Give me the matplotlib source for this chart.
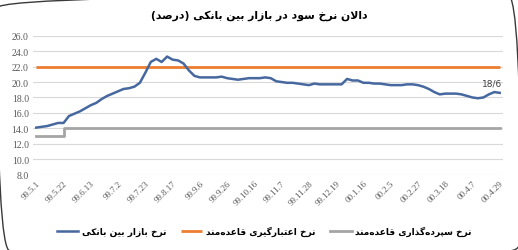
import matplotlib
matplotlib.use("Agg")
import matplotlib.pyplot as plt
from matplotlib.patches import FancyBboxPatch
from matplotlib.transforms import IdentityTransform

# ---------------- data ----------------
tick_labels = ["99.5.1", "99.5.22", "99.6.13", "99.7.2", "99.7.23", "99.8.17",
               "99.9.6", "99.9.26", "99.10.16", "99.11.7", "99.11.28", "99.12.19",
               "00.1.16", "00.2.5", "00.2.27", "00.3.18", "00.4.7", "00.4.29"]
points_per_tick = 5

interbank = [14.1, 14.2, 14.3, 14.5, 14.7, 14.7, 15.6, 15.9, 16.2, 16.6,
             17.0, 17.3, 17.8, 18.2, 18.5, 18.8, 19.1, 19.2, 19.4, 19.9,
             21.2, 22.6, 23.0, 22.6, 23.3, 22.9, 22.8, 22.4, 21.5, 20.8,
             20.6, 20.6, 20.6, 20.6, 20.7, 20.5, 20.4, 20.3, 20.4, 20.5,
             20.5, 20.5, 20.6, 20.5, 20.1, 20.0, 19.9, 19.9, 19.8, 19.7,
             19.6, 19.8, 19.7, 19.7, 19.7, 19.7, 19.7, 20.4, 20.2, 20.2,
             19.9, 19.9, 19.8, 19.8, 19.7, 19.6, 19.6, 19.6, 19.7, 19.7,
             19.6, 19.4, 19.1, 18.7, 18.4, 18.5, 18.5, 18.5, 18.4, 18.2,
             18.0, 17.9, 18.0, 18.4, 18.7, 18.6]
lending_rate = 22.0
deposit_rates = [13.0] * 5 + [14.0] * (len(interbank) - 5)
end_label = "18/6"

yticks = [8, 10, 12, 14, 16, 18, 20, 22, 24, 26]

title_txt = "دالان نرخ سود در بازار بین بانکی (درصد)"
series_names = ["نرخ بازار بین بانکی",
                "نرخ اعتبارگیری قاعده\u200cمند",
                "نرخ سپرده\u200cگذاری قاعده\u200cمند"]

# ------------- minimal Persian shaping -------------
DUAL = {
    'ب': (0xFE8F, 0xFE90, 0xFE91, 0xFE92), 'پ': (0xFB56, 0xFB57, 0xFB58, 0xFB59),
    'ت': (0xFE95, 0xFE96, 0xFE97, 0xFE98), 'خ': (0xFEA5, 0xFEA6, 0xFEA7, 0xFEA8),
    'س': (0xFEB1, 0xFEB2, 0xFEB3, 0xFEB4), 'ص': (0xFEB9, 0xFEBA, 0xFEBB, 0xFEBC),
    'ع': (0xFEC9, 0xFECA, 0xFECB, 0xFECC), 'ق': (0xFED5, 0xFED6, 0xFED7, 0xFED8),
    'ک': (0xFB8E, 0xFB8F, 0xFB90, 0xFB91), 'گ': (0xFB92, 0xFB93, 0xFB94, 0xFB95),
    'ل': (0xFEDD, 0xFEDE, 0xFEDF, 0xFEE0), 'م': (0xFEE1, 0xFEE2, 0xFEE3, 0xFEE4),
    'ن': (0xFEE5, 0xFEE6, 0xFEE7, 0xFEE8), 'ه': (0xFEE9, 0xFEEA, 0xFEEB, 0xFEEC),
    'ی': (0xFBFC, 0xFBFD, 0xFBFE, 0xFBFF),
}
RIGHT = {
    'ا': (0xFE8D, 0xFE8E), 'د': (0xFEA9, 0xFEAA), 'ذ': (0xFEAB, 0xFEAC),
    'ر': (0xFEAD, 0xFEAE), 'ز': (0xFEAF, 0xFEB0), 'و': (0xFEED, 0xFEEE),
}


def shape(s):
    chars = list(s)
    out = []
    i = 0
    n = len(chars)
    while i < n:
        c = chars[i]
        prev = chars[i - 1] if i > 0 else None
        joins_prev = prev in DUAL
        if c == 'ل' and i + 1 < n and chars[i + 1] == 'ا':
            out.append(chr(0xFEFC if joins_prev else 0xFEFB))
            i += 2
            continue
        nxt = chars[i + 1] if i + 1 < n else None
        if c in DUAL:
            joins_next = nxt in DUAL or nxt in RIGHT
            f = DUAL[c]
            if joins_prev and joins_next:
                out.append(chr(f[3]))
            elif joins_prev:
                out.append(chr(f[1]))
            elif joins_next:
                out.append(chr(f[2]))
            else:
                out.append(chr(f[0]))
        elif c in RIGHT:
            f = RIGHT[c]
            out.append(chr(f[1] if joins_prev else f[0]))
        elif c == '\u200c':
            pass
        else:
            out.append(c)
        i += 1
    vis = ''.join(reversed(out))
    vis = vis.translate(str.maketrans({'(': ')', ')': '('}))
    return vis


# ---------------- plot ----------------
W, H = 518, 251
fig = plt.figure(figsize=(W / 100, H / 100), dpi=100)
ax = fig.add_axes([33 / W, 1 - 175.7 / H, (503 - 33) / W, (175.7 - 36.7) / H])

x = list(range(len(interbank)))
ax.plot(x, [lending_rate] * len(x), color="#ED7D31", lw=2.0, solid_capstyle="butt",
        label=shape(series_names[1]), zorder=3)
ax.plot(x, deposit_rates, color="#A5A5A5", lw=2.0, drawstyle="steps-post",
        label=shape(series_names[2]), zorder=3)
ax.plot(x, interbank, color="#46689F", lw=1.8, label=shape(series_names[0]), zorder=4)

ax.annotate(end_label, (x[-1], interbank[-1]), xytext=(2, 4), textcoords="offset points",
            ha="right", va="bottom", fontsize=6.5, color="#404040", family="DejaVu Sans")

ax.set_xlim(-0.6, x[-1] + 0.6)
ax.set_ylim(8, 26)
ax.set_yticks(yticks)
ax.set_yticklabels([f"{v:.1f}" for v in yticks], fontsize=7, color="#595959",
                   family="Liberation Serif")
ticks = list(range(0, len(interbank), points_per_tick))
ax.set_xticks(ticks)
ax.set_xticklabels(tick_labels, rotation=45, ha="right", rotation_mode="anchor",
                   fontsize=6.5, color="#595959", family="Liberation Serif")
ax.tick_params(axis="both", length=0, pad=3)
ax.grid(axis="y", color="#D9D9D9", lw=0.8)
ax.set_axisbelow(True)
for sp in ax.spines.values():
    sp.set_visible(False)

fig.text(0.5, 1 - 16 / H, shape(title_txt), ha="center", va="center",
         fontsize=7.8, fontweight="bold", family="DejaVu Sans")

handles, labels = ax.get_legend_handles_labels()
order = [2, 0, 1]
leg = fig.legend([handles[i] for i in order], [labels[i] for i in order],
                 loc="center", bbox_to_anchor=(0.51, 1 - 232 / H), ncol=3,
                 frameon=False, handlelength=2.4, columnspacing=1.6,
                 handletextpad=0.4, prop={"weight": "bold", "family": "DejaVu Sans", "size": 6.5})

border = FancyBboxPatch((-3, -1), W + 6, H + 5, boxstyle="round,pad=0,rounding_size=13",
                        transform=IdentityTransform(), fill=False, edgecolor="#3A3A3A", lw=1.0)
fig.patches.append(border)

fig.savefig("out.png", dpi=100, facecolor="white")
